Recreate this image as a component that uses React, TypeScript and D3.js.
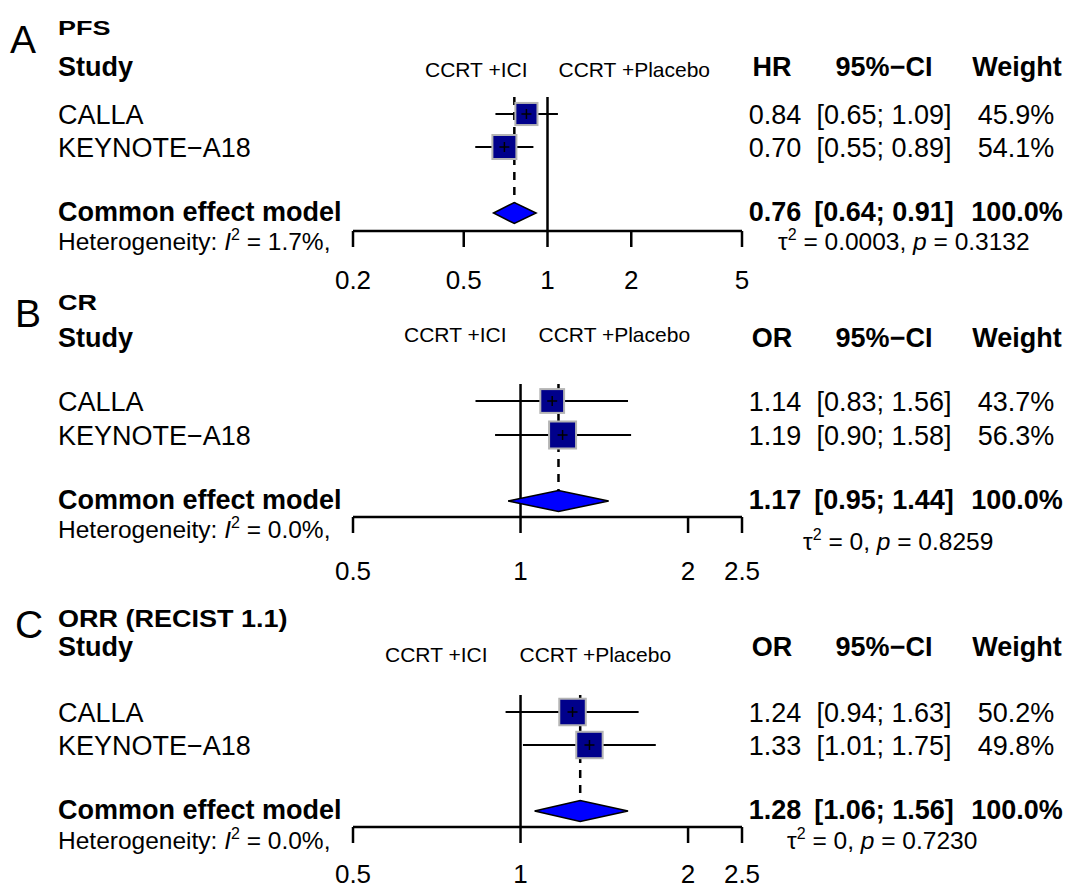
import React from 'react';
import * as d3 from 'd3';

// study labels shared by all three analyses
const studies = ['CALLA', 'KEYNOTE\u2212A18'];
const letters = ['A', 'B', 'C'];
const titles = ['PFS', 'CR', 'ORR (RECIST 1.1)'];
const measures = ['HR', 'OR', 'OR'];

// A: PFS
const estA = [0.84, 0.7];
const lowA = [0.65, 0.55];
const highA = [1.09, 0.89];
const weightA = [45.9, 54.1];
const pooledA = [0.76, 0.64, 0.91];
const hetA = ['1.7%', '0.0003', '0.3132'];
const ticksA = [0.2, 0.5, 1, 2, 5];

// B: CR
const estB = [1.14, 1.19];
const lowB = [0.83, 0.9];
const highB = [1.56, 1.58];
const weightB = [43.7, 56.3];
const pooledB = [1.17, 0.95, 1.44];
const hetB = ['0.0%', '0', '0.8259'];
const ticksB = [0.5, 1, 2, 2.5];

// C: ORR
const estC = [1.24, 1.33];
const lowC = [0.94, 1.01];
const highC = [1.63, 1.75];
const weightC = [50.2, 49.8];
const pooledC = [1.28, 1.06, 1.56];
const hetC = ['0.0%', '0', '0.7230'];
const ticksC = [0.5, 1, 2, 2.5];

const FONT = '"Liberation Sans", Arial, Helvetica, sans-serif';
const X0 = 353;
const X1 = 742;
const COL_EST = 775;
const COL_CI = 884;
const COL_W = 1016;
const FS = 27;

const layout = [
  { letterX: 10, letterY: 53, titleY: 35, titleScale: 0.72, headY: 76, labelY: 77, labL: -20, labR: 11,
    rows: [114, 147], pooledY: 213, hetY: 250, tauX: 778, tauY: 250, axisY: 231, tickY: 289, boxMax: 24 },
  { letterX: 15, letterY: 327, titleY: 310, titleScale: 0.8, headY: 347, labelY: 342, labL: -14, labR: 18,
    rows: [401, 435], pooledY: 501, hetY: 538, tauX: 803, tauY: 550, axisY: 517, tickY: 580, boxMax: 27 },
  { letterX: 15, letterY: 638, titleY: 627, titleScale: 0.88, headY: 656, labelY: 662, labL: -33, labR: -1,
    rows: [712, 745], pooledY: 811, hetY: 849, tauX: 787, tauY: 849, axisY: 827, tickY: 883, boxMax: 26.5 },
];

const data = [
  { est: estA, low: lowA, high: highA, w: weightA, pooled: pooledA, het: hetA, ticks: ticksA },
  { est: estB, low: lowB, high: highB, w: weightB, pooled: pooledB, het: hetB, ticks: ticksB },
  { est: estC, low: lowC, high: highC, w: weightC, pooled: pooledC, het: hetC, ticks: ticksC },
];

const fmt = d3.format('.2f');

function Panel({ i }: { i: number }) {
  const L = layout[i];
  const d = data[i];
  const ticks = d.ticks;
  const x = d3.scaleLog().domain([ticks[0], ticks[ticks.length - 1]]).range([X0, X1]);
  const size = d3.scaleSqrt().domain([0, d3.max(d.w) as number]).range([0, L.boxMax]);
  const refX = x(1);
  const top = L.rows[0] - 17;
  const [pe, pl, ph] = d.pooled;
  const dh = 10.5;
  const diamond = `M${x(pl)},${L.pooledY} L${x(pe)},${L.pooledY - dh} L${x(ph)},${L.pooledY} L${x(pe)},${L.pooledY + dh} Z`;

  return (
    <g fontFamily={FONT} fill="#000">
      <text x={L.letterX} y={L.letterY} fontSize={39}>{letters[i]}</text>
      <text transform={`translate(58,${L.titleY}) scale(1,${L.titleScale})`} fontSize={FS} fontWeight="bold">{titles[i]}</text>

      {/* header row */}
      <text x={58} y={L.headY} fontSize={FS} fontWeight="bold">Study</text>
      <text x={refX + L.labL} y={L.labelY} fontSize={21} textAnchor="end">CCRT +ICI</text>
      <text x={refX + L.labR} y={L.labelY} fontSize={21}>CCRT +Placebo</text>
      <text x={COL_EST - 3} y={L.headY} fontSize={FS} fontWeight="bold" textAnchor="middle">{measures[i]}</text>
      <text x={COL_CI} y={L.headY} fontSize={FS} fontWeight="bold" textAnchor="middle">95%{'\u2212'}CI</text>
      <text x={COL_W + 1} y={L.headY} fontSize={FS} fontWeight="bold" textAnchor="middle">Weight</text>

      {/* reference line and pooled dashed line */}
      <line x1={refX} x2={refX} y1={top} y2={L.axisY} stroke="#000" strokeWidth={2.5} />
      <line x1={x(pe)} x2={x(pe)} y1={top} y2={L.pooledY - dh} stroke="#000" strokeWidth={2.5} strokeDasharray="8,7" />

      {/* studies */}
      {studies.map((s, k) => {
        const cy = L.rows[k];
        const cx = x(d.est[k]);
        const sz = size(d.w[k]);
        return (
          <g key={s}>
            <text x={58} y={cy + 10} fontSize={FS}>{s}</text>
            <line x1={x(d.low[k])} x2={x(d.high[k])} y1={cy} y2={cy} stroke="#000" strokeWidth={2} />
            <rect x={cx - sz / 2} y={cy - sz / 2} width={sz} height={sz} fill="#00008B" stroke="#B4B4B4" strokeWidth={2} />
            <line x1={cx - 5} x2={cx + 5} y1={cy} y2={cy} stroke="#000" strokeWidth={1.5} />
            <line x1={cx} x2={cx} y1={cy - 5} y2={cy + 5} stroke="#000" strokeWidth={1.5} />
            <text x={COL_EST} y={cy + 10} fontSize={FS} textAnchor="middle">{fmt(d.est[k])}</text>
            <text x={COL_CI} y={cy + 10} fontSize={FS} textAnchor="middle">[{fmt(d.low[k])}; {fmt(d.high[k])}]</text>
            <text x={COL_W} y={cy + 10} fontSize={FS} textAnchor="middle">{d.w[k].toFixed(1)}%</text>
          </g>
        );
      })}

      {/* pooled estimate */}
      <path d={diamond} fill="#0000FF" stroke="#000" strokeWidth={1.5} />
      <text x={58} y={L.pooledY + 8} fontSize={FS} fontWeight="bold">Common effect model</text>
      <text x={COL_EST} y={L.pooledY + 8} fontSize={FS} fontWeight="bold" textAnchor="middle">{fmt(pe)}</text>
      <text x={COL_CI} y={L.pooledY + 8} fontSize={FS} fontWeight="bold" textAnchor="middle">[{fmt(pl)}; {fmt(ph)}]</text>
      <text x={COL_W + 1} y={L.pooledY + 8} fontSize={FS} fontWeight="bold" textAnchor="middle">100.0%</text>

      {/* heterogeneity */}
      <text x={58} y={L.hetY} fontSize={24.5}>
        Heterogeneity: <tspan fontStyle="italic">I</tspan>
        <tspan dy={-10} fontSize={16}>2</tspan>
        <tspan dy={10}> = {d.het[0]},</tspan>
      </text>
      <text x={L.tauX} y={L.tauY} fontSize={24.5}>
        {'\u03c4'}<tspan dy={-10} fontSize={16}>2</tspan>
        <tspan dy={10}> = {d.het[1]}, </tspan>
        <tspan fontStyle="italic">p</tspan> = {d.het[2]}
      </text>

      {/* axis */}
      <line x1={X0} x2={X1} y1={L.axisY} y2={L.axisY} stroke="#000" strokeWidth={2.5} />
      {ticks.map((t) => (
        <g key={t}>
          <line x1={x(t)} x2={x(t)} y1={L.axisY} y2={L.axisY + 16} stroke="#000" strokeWidth={2.5} />
          <text x={x(t)} y={L.tickY} fontSize={26} textAnchor="middle">{String(t)}</text>
        </g>
      ))}
    </g>
  );
}

export default function App() {
  return (
    <svg width={1067} height={889} style={{ position: 'absolute', left: 0, top: 0, background: '#fff' }}>
      <rect width={1067} height={889} fill="#fff" />
      {letters.map((_, i) => <Panel key={i} i={i} />)}
    </svg>
  );
}
